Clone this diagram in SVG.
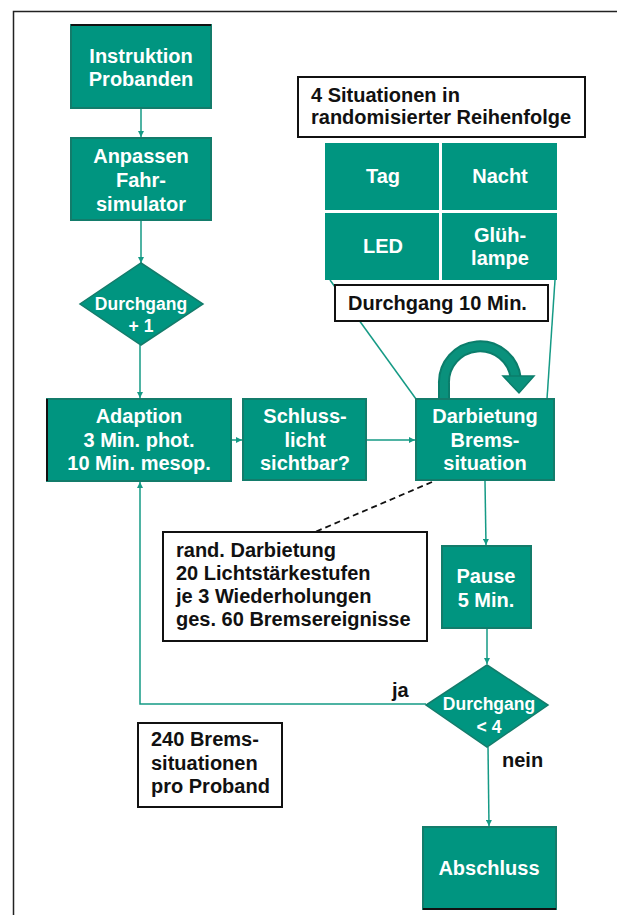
<svg xmlns="http://www.w3.org/2000/svg" width="617" height="915" viewBox="0 0 617 915">
<defs>
<style>
.box{fill:#009580;stroke:#137c6b;stroke-width:2}
.cell{fill:#009580}
.note{fill:#fff;stroke:#111;stroke-width:2}
.wt{font-family:"Liberation Sans",Arial,sans-serif;font-weight:bold;font-size:20px;fill:#fff;text-anchor:middle}
.wd{font-family:"Liberation Sans",Arial,sans-serif;font-weight:bold;font-size:17.5px;fill:#fff;text-anchor:middle}
.bt{font-family:"Liberation Sans",Arial,sans-serif;font-weight:bold;font-size:20px;fill:#111}
.con{fill:none;stroke:#159a85;stroke-width:1.5}
</style>
<marker id="ah" viewBox="0 0 10 10" refX="10" refY="5" markerWidth="6" markerHeight="6" markerUnits="userSpaceOnUse" orient="auto">
<path d="M0,0 L10,5 L0,10 z" fill="#159a85"/>
</marker>
</defs>
<rect x="13.5" y="11.5" width="700" height="1000" fill="none" stroke="#222" stroke-width="1.5"/>

<g id="connectors">
<line class="con" x1="141" y1="108" x2="141" y2="137" marker-end="url(#ah)"/>
<line class="con" x1="141" y1="220" x2="141" y2="263" marker-end="url(#ah)"/>
<line class="con" x1="140" y1="345" x2="140" y2="398" marker-end="url(#ah)"/>
<line class="con" x1="232" y1="440" x2="242" y2="440" marker-end="url(#ah)"/>
<line class="con" x1="366" y1="440" x2="415" y2="440" marker-end="url(#ah)"/>
<line class="con" x1="485" y1="481" x2="486" y2="545" marker-end="url(#ah)"/>
<line class="con" x1="487" y1="628" x2="487" y2="664" marker-end="url(#ah)"/>
<line class="con" x1="488" y1="747" x2="489" y2="826" marker-end="url(#ah)"/>
<polyline class="con" points="426,704 140,704 140,482" marker-end="url(#ah)"/>
<line class="con" x1="330" y1="280" x2="416" y2="399"/>
<line class="con" x1="555" y1="280" x2="547" y2="399"/>
<line x1="432" y1="482" x2="315" y2="532" stroke="#111" stroke-width="1.8" stroke-dasharray="6,4"/>
<path d="M444 399 L444 384 A36 36 0 0 1 515.7 378" fill="none" stroke="#0b7d6b" stroke-width="12"/>
<path d="M444 399 L444 384 A36 36 0 0 1 515.7 378" fill="none" stroke="#0a917c" stroke-width="8"/>
<polygon points="503,376 534,376 519,393" fill="#0a917c" stroke="#0b7d6b" stroke-width="1.5"/>
</g>

<g id="instruktion">
<rect class="box" x="71" y="25" width="140" height="83"/>
<line x1="71" y1="25" x2="211" y2="25" stroke="#111" stroke-width="2"/>
<text class="wt" x="141" y="63">Instruktion</text>
<text class="wt" x="141" y="86">Probanden</text>
</g>

<g id="anpassen">
<rect class="box" x="71" y="138" width="140" height="82"/>
<text class="wt" x="141" y="163">Anpassen</text>
<text class="wt" x="141" y="187">Fahr-</text>
<text class="wt" x="141" y="211">simulator</text>
</g>

<g id="durchgang-plus">
<polygon points="141,263 203,304 141,345 80,304" fill="#009580" stroke="#137c6b" stroke-width="1.5"/>
<text class="wd" x="141" y="310">Durchgang</text>
<text class="wd" x="141" y="332">+ 1</text>
</g>

<g id="adaption">
<rect class="box" x="47" y="399" width="184" height="82"/>
<line x1="47" y1="399" x2="47" y2="481" stroke="#111" stroke-width="2"/>
<text class="wt" x="139" y="423">Adaption</text>
<text class="wt" x="139" y="446.5">3 Min. phot.</text>
<text class="wt" x="139" y="470">10 Min. mesop.</text>
</g>

<g id="schlusslicht">
<rect class="box" x="243" y="399" width="123" height="81"/>
<text class="wt" x="305" y="423">Schluss-</text>
<text class="wt" x="305" y="446.5">licht</text>
<text class="wt" x="305" y="470">sichtbar?</text>
</g>

<g id="darbietung">
<rect class="box" x="416" y="399" width="138" height="81"/>
<text class="wt" x="485" y="423">Darbietung</text>
<text class="wt" x="485" y="446.5">Brems-</text>
<text class="wt" x="485" y="470">situation</text>
</g>

<g id="situationen">
<rect class="note" x="298" y="77" width="287" height="60"/>
<text class="bt" x="311" y="102">4 Situationen in</text>
<text class="bt" x="311" y="124">randomisierter Reihenfolge</text>
</g>

<g id="grid">
<rect class="cell" x="325" y="143" width="114" height="67"/>
<rect class="cell" x="442" y="143" width="115" height="67"/>
<rect class="cell" x="325" y="213" width="114" height="67"/>
<rect class="cell" x="442" y="213" width="115" height="67"/>
<text class="wt" x="383" y="183">Tag</text>
<text class="wt" x="500" y="183">Nacht</text>
<text class="wt" x="383" y="253">LED</text>
<text class="wt" x="500" y="242">Glüh-</text>
<text class="wt" x="500" y="265">lampe</text>
</g>

<g id="durchgang10">
<rect class="note" x="335" y="285" width="213" height="36"/>
<text class="bt" x="348" y="310">Durchgang 10 Min.</text>
</g>

<g id="rand">
<rect class="note" x="163" y="532" width="264" height="109"/>
<text class="bt" x="176" y="557">rand. Darbietung</text>
<text class="bt" x="176" y="580">20 Lichtstärkestufen</text>
<text class="bt" x="176" y="603">je 3 Wiederholungen</text>
<text class="bt" x="176" y="626">ges. 60 Bremsereignisse</text>
</g>

<g id="pause">
<rect class="box" x="442" y="546" width="89" height="82"/>
<text class="wt" x="486" y="583">Pause</text>
<text class="wt" x="486" y="607">5 Min.</text>
</g>

<g id="durchgang-lt4">
<polygon points="487,665 548,705 487,747 426,705" fill="#009580" stroke="#137c6b" stroke-width="1.5"/>
<text class="wd" x="489" y="710">Durchgang</text>
<text class="wd" x="489" y="733">&lt; 4</text>
</g>

<g id="labels">
<text class="bt" x="392" y="697">ja</text>
<text class="bt" x="502" y="767">nein</text>
</g>

<g id="summary">
<rect class="note" x="138" y="723" width="144" height="84"/>
<text class="bt" x="151" y="746">240 Brems-</text>
<text class="bt" x="151" y="770">situationen</text>
<text class="bt" x="151" y="793">pro Proband</text>
</g>

<g id="abschluss">
<rect class="box" x="423" y="827" width="133" height="82"/>
<line x1="423" y1="909" x2="556" y2="909" stroke="#111" stroke-width="2"/>
<text class="wt" x="489" y="875">Abschluss</text>
</g>
</svg>
